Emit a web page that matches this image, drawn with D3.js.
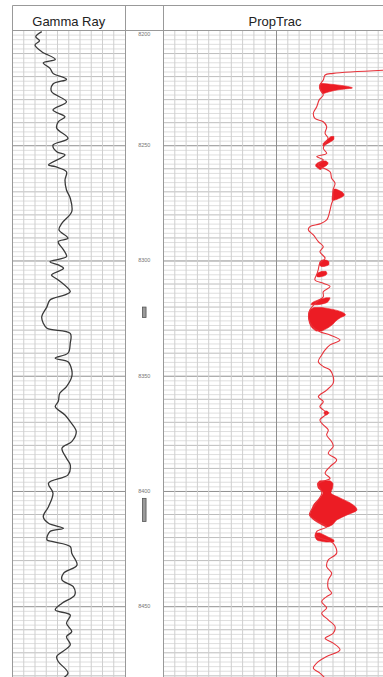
<!DOCTYPE html>
<html>
<head>
<meta charset="utf-8">
<script src="https://cdn.jsdelivr.net/npm/d3@7"></script>
<style>
  html, body { margin: 0; padding: 0; background: #fff; }
  svg { display: block; font-family: "Liberation Sans", Arial, sans-serif; }
</style>
</head>
<body>
<div id="chart"></div>
<script>
// depth labels (ft)
const depthTicks = [8200, 8250, 8300, 8350, 8400, 8450];

// gamma ray curve
const gammaDepth = [8200.5, 8202.7, 8204.4, 8206.3, 8209.2, 8212.5, 8214, 8216.4, 8218.6, 8221.2,
  8223.2, 8226.5, 8230.9, 8234.5, 8237.4, 8239.6, 8242.4, 8246.8, 8249.7, 8252.6,
  8254, 8258.3, 8259.1, 8261.3, 8264.9, 8269.2, 8272.8, 8278.6, 8283.6, 8286.5,
  8290.1, 8291.6, 8295.2, 8298.1, 8300.3, 8301.7, 8303.2, 8306.1, 8308.2, 8313.3,
  8314.7, 8316.9, 8319.8, 8324.2, 8327, 8329.2, 8331.4, 8335.7, 8340, 8342.2,
  8343.7, 8347.3, 8350.2, 8354.5, 8357.4, 8361, 8363.2, 8366.8, 8369.7, 8374,
  8378.4, 8381.2, 8385.6, 8388.5, 8392.8, 8396.4, 8400.8, 8406.6, 8410.9, 8413.8,
  8416, 8417.4, 8421, 8421.8, 8423.9, 8426.8, 8431.9, 8435.5, 8438.4, 8441.3,
  8444.9, 8448.5, 8451.4, 8453.6, 8457.2, 8460.8, 8463, 8466.6, 8471.6, 8473.8,
  8478.8, 8482];
const gammaValue = [39, 31, 36, 30, 39, 57, 41, 50, 54, 72,
  54, 52, 72, 54, 70, 61, 59, 74, 54, 59,
  70, 48, 57, 72, 70, 72, 77, 79, 66, 62,
  74, 61, 68, 72, 50, 61, 68, 52, 61, 77,
  70, 50, 46, 39, 41, 46, 77, 77, 74, 57,
  74, 79, 79, 72, 63, 61, 57, 70, 77, 85,
  79, 66, 72, 77, 74, 48, 54, 48, 41, 48,
  68, 50, 46, 54, 77, 79, 86, 68, 66, 81,
  83, 66, 57, 77, 72, 79, 72, 77, 59, 61,
  74, 62];

// proptrac curve
const propDepth = [8216.9, 8218.6, 8219.3, 8221.5, 8223.6, 8225.8, 8228, 8230.1, 8233.1, 8235.9, 8238.1,
  8239.6, 8241.7, 8244.6, 8246.6, 8247.9, 8251.1, 8253.3, 8254.7, 8256.2, 8258.3,
  8261.3, 8264.1, 8266.3, 8269.2, 8273.5, 8275, 8277.9, 8282.2, 8283.9, 8285.1,
  8286.5, 8288.7, 8291.6, 8293.8, 8296, 8298.8, 8300.9, 8303.6, 8305.6, 8308.2,
  8309.7, 8311.1, 8313.3, 8315.5, 8317.3, 8321.2, 8324.7, 8328.2, 8330.7, 8332.1,
  8334.3, 8336.4, 8338.6, 8340.8, 8343.7, 8345.8, 8347.3, 8350.2, 8353, 8356,
  8358.9, 8361, 8363.2, 8366.1, 8369, 8371.1, 8373.3, 8375.5, 8378.4, 8380.5,
  8383.4, 8386.3, 8389.2, 8392.1, 8394.3, 8396.7, 8400.6, 8405.8, 8410.2, 8413.2,
  8415.3, 8417.4, 8419.3, 8422.5, 8426.8, 8429.7, 8432.6, 8435.5, 8438.4, 8442,
  8444.1, 8445.6, 8447.8, 8450.6, 8452.8, 8455.7, 8458.6, 8461.5, 8463.7, 8465.8,
  8468.7, 8471.6, 8473.8, 8476.7, 8478.8, 8481];
const propValue = [105, 75.1, 71.5, 70.7, 69.2, 69.5, 70.7, 68.9, 67.8, 66.3, 67,
  70.7, 72.2, 71.5, 72.8, 72.3, 70.7, 72.2, 67.8, 70.7, 68.4,
  73.7, 74.4, 75.9, 75, 75, 74.4, 73.7, 72.2, 69.2, 64.8,
  64.1, 66.3, 68.5, 70.7, 69.2, 71.5, 69.2, 68.5, 67.9, 67,
  70.7, 73.7, 70.7, 70.7, 68.4, 64.8, 64.2, 65.7, 69.2, 73.7,
  78.1, 73.7, 71.5, 70, 68.5, 70.7, 73.7, 75.1, 75.1, 72.2,
  68.5, 70.7, 69.2, 72.2, 69.2, 70.7, 72.9, 72.2, 74.4, 75.1,
  72.9, 76.6, 73.7, 71.5, 73.7, 68.4, 70.1, 67, 64.6, 68.4,
  72.2, 67.8, 67.5, 75.1, 76.6, 72.9, 72.2, 74.4, 72.9, 72.9,
  74.4, 72.2, 70, 72.2, 70, 72.9, 75.9, 75.1, 71.5, 75.1,
  78.1, 72.2, 68.5, 66.3, 69.2, 71.5];

// shaded proptrac zones: [depth, left, right]
const propFill = [
  [[8223.0, 69.7, 70.6], [8223.6, 69.2, 76.8], [8224.5, 69.0, 82.5], [8224.9, 69.0, 83.6], [8225.6, 69.2, 78.1], [8226.5, 69.7, 73.7], [8227.3, 70.4, 71.0]],
  [[8246.0, 74.1, 75.4], [8247.1, 72.8, 75.4], [8248.2, 71.5, 74.1], [8249.2, 70.6, 72.3], [8250.1, 70.6, 71.0]],
  [[8256.6, 70.1, 71.9], [8257.5, 68.1, 72.8], [8258.6, 67.3, 72.1], [8259.6, 68.1, 70.4], [8260.3, 69.2, 69.7]],
  [[8268.8, 75.4, 76.3], [8270.1, 75.0, 79.0], [8271.4, 74.8, 79.9], [8272.7, 74.6, 78.1], [8273.7, 74.6, 75.4]],
  [[8299.6, 70.1, 71.9], [8300.4, 69.2, 73.2], [8301.5, 69.0, 73.2], [8302.4, 69.7, 71.0]],
  [[8304.5, 70.1, 71.9], [8305.4, 68.1, 72.3], [8306.3, 67.7, 71.5], [8306.9, 68.1, 69.2]],
  [[8316.0, 71.9, 73.7], [8317.1, 67.9, 73.2], [8318.2, 65.7, 71.9], [8319.0, 65.3, 68.1]],
  [[8320.2, 66.6, 70.1], [8321.0, 65.0, 74.9], [8322.1, 64.4, 78.8], [8323.4, 64.2, 80.5], [8324.7, 64.2, 78.1], [8326.0, 64.4, 76.3], [8327.5, 64.8, 74.9], [8329.0, 65.7, 72.8], [8330.4, 67.5, 70.1]],
  [[8365.1, 71.5, 72.3], [8365.9, 71.0, 73.2], [8366.8, 71.5, 72.3]],
  [[8395.4, 69.2, 73.7], [8396.7, 68.1, 75.0], [8398.4, 68.4, 74.8], [8400.6, 70.6, 74.1], [8402.8, 69.2, 78.1], [8404.9, 67.0, 82.5], [8408.0, 65.5, 85.6], [8410.2, 64.8, 81.2], [8412.3, 66.4, 76.8], [8414.5, 70.1, 74.6], [8415.4, 71.9, 72.8]],
  [[8418.0, 67.5, 69.2], [8419.1, 67.0, 71.5], [8420.2, 67.3, 73.7], [8421.2, 68.1, 75.4], [8421.9, 71.9, 75.4]]
];

// perforation intervals
const perfTop = [8320, 8403];
const perfBottom = [8324.5, 8413];

const W = 383, H = 677;
const headTop = 5.5, plotTop = 30.5;

const y = d3.scaleLinear().domain([8200, 8480.5]).range([plotTop, H]);
const xGR = d3.scaleLinear().domain([0, 150]).range([12.5, 125]);
const xPT = d3.scaleLinear().domain([0, 100]).range([163.5, 389.5]);
const depthX = [125, 163.5];

const svg = d3.select("#chart").append("svg")
  .attr("width", W)
  .attr("height", H);

// clip paths for the two curve tracks
const defs = svg.append("defs");
[["clipGR", xGR], ["clipPT", xPT]].forEach(([id, x]) => {
  defs.append("clipPath").attr("id", id)
    .append("rect")
    .attr("x", x.range()[0]).attr("y", plotTop)
    .attr("width", x.range()[1] - x.range()[0])
    .attr("height", H - plotTop);
});

// grid for a track
function drawGrid(x, step, boldAt) {
  const g = svg.append("g");
  const [x0, x1] = x.range();
  const hLines = d3.range(8200, 8482, 2);
  g.selectAll("line.h")
    .data(hLines)
    .enter()
    .append("line")
    .attr("x1", x0).attr("x2", x1)
    .attr("y1", d => y(d)).attr("y2", d => y(d))
    .attr("stroke", d => d % 50 === 0 ? "#8f8f8f" : d % 10 === 0 ? "#bdbdbd" : "#dedede")
    .attr("stroke-width", 1);
  const vLines = d3.range(x.domain()[0] + step, x.domain()[1], step);
  g.selectAll("line.v")
    .data(vLines)
    .enter()
    .append("line")
    .attr("x1", d => x(d)).attr("x2", d => x(d))
    .attr("y1", plotTop).attr("y2", H)
    .attr("stroke", d => d === boldAt ? "#8f8f8f" : "#cfcfcf")
    .attr("stroke-width", 1);
}

drawGrid(xGR, 15, null);
drawGrid(xPT, 5, 50);

// gamma ray line
const grData = gammaDepth.map((d, i) => ({ depth: d, value: gammaValue[i] }));
svg.append("path")
  .datum(grData)
  .attr("clip-path", "url(#clipGR)")
  .attr("fill", "none")
  .attr("stroke", "#3a3a3a")
  .attr("stroke-width", 1.3)
  .attr("d", d3.line()
    .curve(d3.curveCatmullRom.alpha(0.5))
    .x(d => xGR(d.value))
    .y(d => y(d.depth)));

// proptrac shading
const fillArea = d3.area()
  .curve(d3.curveMonotoneY)
  .y(d => y(d[0]))
  .x0(d => xPT(d[1]))
  .x1(d => xPT(d[2]));

svg.append("g")
  .attr("clip-path", "url(#clipPT)")
  .selectAll("path")
  .data(propFill)
  .enter()
  .append("path")
  .attr("fill", "#ec1c24")
  .attr("stroke", "#ec1c24")
  .attr("stroke-width", 0.6)
  .attr("d", fillArea);

// proptrac line
const ptData = propDepth.map((d, i) => ({ depth: d, value: propValue[i] }));
svg.append("path")
  .datum(ptData)
  .attr("clip-path", "url(#clipPT)")
  .attr("fill", "none")
  .attr("stroke", "#e8333b")
  .attr("stroke-width", 1.1)
  .attr("d", d3.line()
    .curve(d3.curveCatmullRom.alpha(0.5))
    .x(d => xPT(d.value))
    .y(d => y(d.depth)));

// depth track labels
const depthMid = (depthX[0] + depthX[1]) / 2;
svg.append("g")
  .selectAll("text")
  .data(depthTicks)
  .enter()
  .append("text")
  .attr("x", depthMid)
  .attr("y", d => Math.max(y(d), plotTop + 4))
  .attr("text-anchor", "middle")
  .attr("dominant-baseline", "middle")
  .attr("font-size", 5.5)
  .attr("fill", "#777")
  .text(d => d);

// perforation markers
svg.append("g")
  .selectAll("rect")
  .data(perfTop)
  .enter()
  .append("rect")
  .attr("x", depthMid - 1.8)
  .attr("y", d => y(d))
  .attr("width", 3.6)
  .attr("height", (d, i) => y(perfBottom[i]) - y(d))
  .attr("fill", "#9a9a9a")
  .attr("stroke", "#555")
  .attr("stroke-width", 0.8);

// borders and header
const frame = svg.append("g").attr("stroke", "#999").attr("stroke-width", 1);
frame.append("line").attr("x1", 12.5).attr("x2", W).attr("y1", headTop).attr("y2", headTop);
frame.append("line").attr("x1", 12.5).attr("x2", W).attr("y1", plotTop).attr("y2", plotTop);
[12.5, 125.5, 163.5].forEach(x => {
  frame.append("line").attr("x1", x).attr("x2", x).attr("y1", headTop).attr("y2", H);
});

const headers = [
  { name: "Gamma Ray", x: (xGR.range()[0] + xGR.range()[1]) / 2 },
  { name: "PropTrac", x: (xPT.range()[0] + xPT.range()[1]) / 2 - 1.5 }
];
svg.append("g")
  .selectAll("text")
  .data(headers)
  .enter()
  .append("text")
  .attr("x", d => d.x)
  .attr("y", 26)
  .attr("text-anchor", "middle")
  .attr("font-size", 13)
  .attr("fill", "#222")
  .text(d => d.name);
</script>
</body>
</html>
